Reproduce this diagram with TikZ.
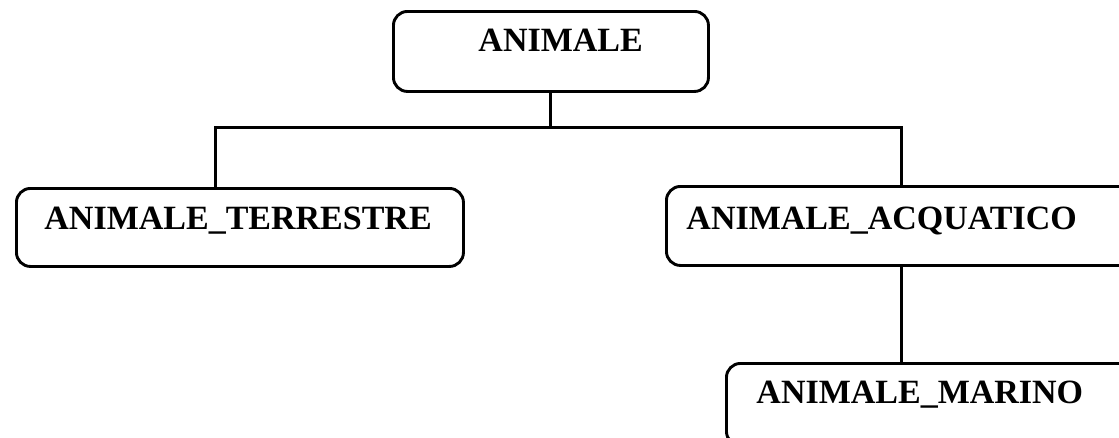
\documentclass[tikz,border=0pt]{standalone}
\usepackage{fontspec}
\setmainfont{Liberation Serif}
\begin{document}
\begin{tikzpicture}[x=1pt,y=-1pt,
  box/.style={draw, line width=2.9pt, rounded corners=14pt, anchor=north west,
    inner sep=0pt, align=left, font=\fontsize{34}{40}\selectfont\bfseries},
  link/.style={line width=3pt}]
  \useasboundingbox (0,0) rectangle (1119,437);
  \clip (0,0) rectangle (1119,437);

  % class boxes
  \node[box, text width=315pt, text height=40pt, text depth=40pt] (animale) at (392,10)
    {\hspace*{85pt}ANIMALE};
  \node[box, text width=447pt, text height=41pt, text depth=37pt] (terrestre) at (15,187)
    {\hspace*{28pt}ANIMALE\_TERRESTRE};
  \node[box, text width=480pt, text height=43pt, text depth=36pt] (acquatico) at (665,185)
    {\hspace*{20pt}ANIMALE\_ACQUATICO};
  \node[box, text width=450pt, text height=40pt, text depth=42pt] (marino) at (725,362)
    {\hspace*{30pt}ANIMALE\_MARINO};

  % bus line joining the subclasses
  \coordinate (busl) at (215,127);
  \coordinate (busr) at (901,127);

  \draw[link] (animale.south) -- (animale.south |- busl);
  \draw[link] (busl |- terrestre.north) -- (busl) -- (busr) -- (busr |- acquatico.north);
  \draw[link] (busr |- acquatico.south) -- (busr |- marino.north);
\end{tikzpicture}
\end{document}
